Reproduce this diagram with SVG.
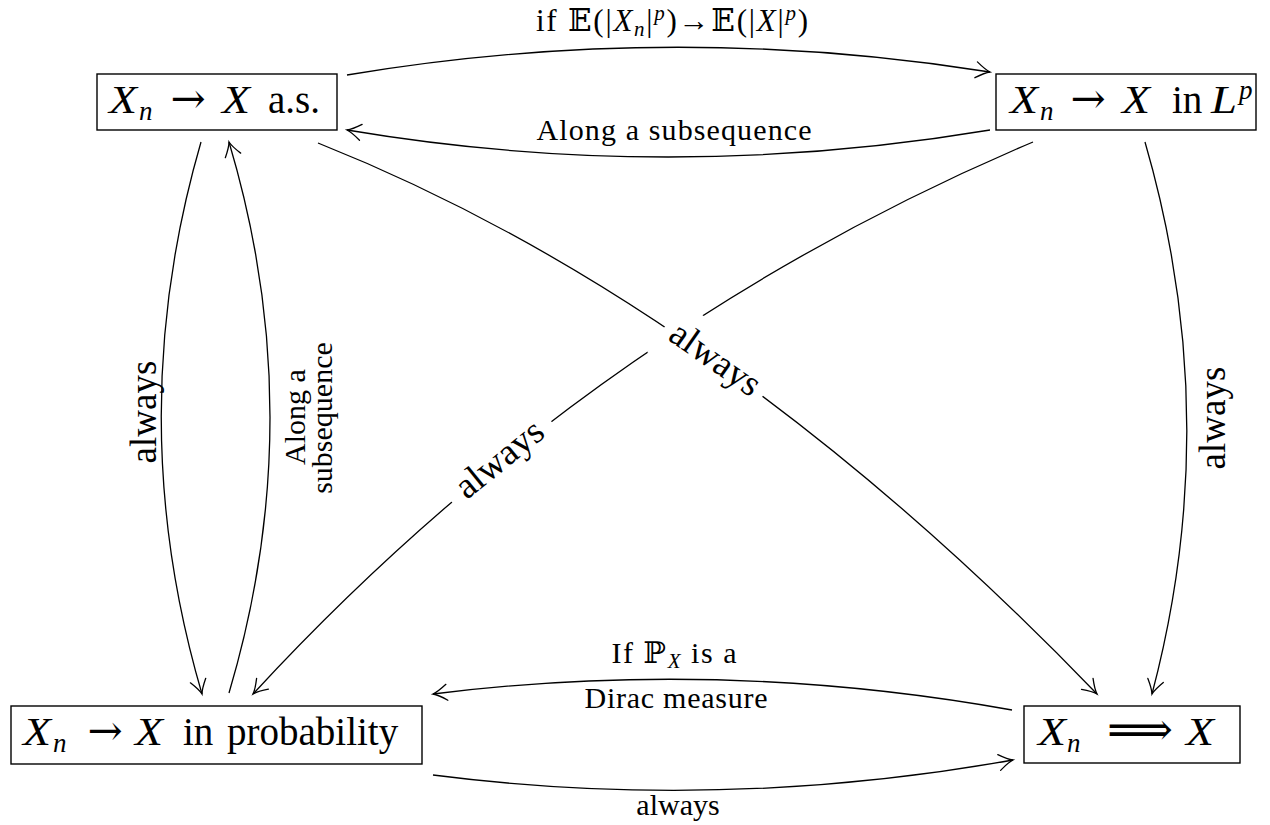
<svg xmlns="http://www.w3.org/2000/svg" width="1270" height="825" viewBox="0 0 1270 825">
<defs>
<style>
text{font-family:'Liberation Serif','DejaVu Serif','DejaVu Sans',serif;fill:#000}
.nt{font-size:39px}
.sb{font-size:27px}
.mi{font-style:italic}
.ar{font-family:'DejaVu Serif','DejaVu Sans',serif;font-size:42px}
.lb{font-size:30px}
.big{font-size:37px}
.box{fill:#fff;stroke:#000;stroke-width:1.4}
.edge{fill:none;stroke:#000;stroke-width:1.3;marker-end:url(#ah)}
.bg{fill:#fff;stroke:none}
</style>
<marker id="ah" markerUnits="userSpaceOnUse" markerWidth="20" markerHeight="20" viewBox="-16 -10 20 20" refX="0" refY="0" orient="auto" overflow="visible">
<path d="M-14,-8 Q-5,-1.5 0,0 Q-5,1.5 -14,8" fill="none" stroke="#000" stroke-width="1.3" stroke-linecap="round"/>
</marker>
</defs>
<rect width="1270" height="825" fill="#fff"/>

<g id="connectors">
<path class="edge" d="M347,75 Q669,21 990,72"/>
<path class="edge" d="M990,130 Q668,184 347,130"/>
<path class="edge" d="M201,142 Q121,418 202,694"/>
<path class="edge" d="M229,693 Q311,417 229,142"/>
<path class="edge" d="M318,143 Q720,303 1097,694"/>
<path class="edge" d="M1033,142 Q589,330 253,694"/>
<path class="edge" d="M1145,142 Q1225,418 1152,694"/>
<path class="edge" d="M1012,710 Q722,658 433,694"/>
<path class="edge" d="M433,775 Q722,812 1013,760"/>

<text style="font-size:31px" x="672" y="31" text-anchor="middle" textLength="272">if 𝔼(|<tspan class="mi">X</tspan><tspan class="mi" font-size="21" dy="5">n</tspan><tspan dy="-5">|</tspan><tspan class="mi" font-size="21" dy="-11">p</tspan><tspan dy="11">)→𝔼(|</tspan><tspan class="mi">X</tspan>|<tspan class="mi" font-size="21" dy="-11">p</tspan><tspan dy="11">)</tspan></text>
<text class="lb" x="674" y="140" text-anchor="middle" textLength="275">Along a subsequence</text>

<text class="big" transform="translate(156,412) rotate(-90)" text-anchor="middle">always</text>
<text style="font-size:30px" transform="translate(305,417) rotate(-90)" text-anchor="middle">Along a</text>
<text style="font-size:30px" transform="translate(332,418) rotate(-90)" text-anchor="middle">subsequence</text>
<text class="big" transform="translate(1225,418) rotate(-90)" text-anchor="middle">always</text>

<g transform="translate(714,361) rotate(35)">
<rect class="bg" x="-60" y="-31" width="120" height="62"/>
<text class="big" x="0" y="9" text-anchor="middle">always</text>
</g>
<g transform="translate(501,461) rotate(-39)">
<rect class="bg" x="-64" y="-24" width="128" height="48"/>
<text class="big" x="0" y="9" text-anchor="middle">always</text>
</g>

<text class="lb" x="674" y="663" text-anchor="middle" textLength="125">If ℙ<tspan class="mi" font-size="21" dy="5">X</tspan><tspan dy="-5"> is a</tspan></text>
<text class="lb" x="676" y="708" text-anchor="middle" textLength="183">Dirac measure</text>
<text class="lb" x="678" y="815" text-anchor="middle">always</text>
</g>

<g id="node-as">
<rect class="box" x="97" y="74" width="240" height="56"/>
<text class="nt mi" x="109" y="113" textLength="28" lengthAdjust="spacingAndGlyphs">X</text>
<text class="sb mi" x="139" y="120">n</text>
<text class="ar" x="188" y="113" text-anchor="middle">→</text>
<text class="nt mi" x="222" y="113" textLength="28" lengthAdjust="spacingAndGlyphs">X</text>
<text class="nt" x="268" y="113">a.s.</text>
</g>

<g id="node-lp">
<rect class="box" x="996" y="74" width="260" height="56"/>
<text class="nt mi" x="1010" y="113" textLength="28" lengthAdjust="spacingAndGlyphs">X</text>
<text class="sb mi" x="1040" y="120">n</text>
<text class="ar" x="1088" y="113" text-anchor="middle">→</text>
<text class="nt mi" x="1122" y="113" textLength="28" lengthAdjust="spacingAndGlyphs">X</text>
<text class="nt" x="1172" y="113">in</text>
<text class="nt mi" x="1211" y="113" textLength="26" lengthAdjust="spacingAndGlyphs">L</text>
<text class="sb mi" x="1239" y="99">p</text>
</g>

<g id="node-prob">
<rect class="box" x="11" y="706" width="411" height="58"/>
<text class="nt mi" x="23" y="745" textLength="28" lengthAdjust="spacingAndGlyphs">X</text>
<text class="sb mi" x="53" y="752">n</text>
<text class="ar" x="105" y="745" text-anchor="middle">→</text>
<text class="nt mi" x="135" y="745" textLength="28" lengthAdjust="spacingAndGlyphs">X</text>
<text class="nt" x="183" y="745">in</text>
<text class="nt" x="227" y="745">probability</text>
</g>

<g id="node-weak">
<rect class="box" x="1024" y="706" width="216" height="57"/>
<text class="nt mi" x="1038" y="745" textLength="28" lengthAdjust="spacingAndGlyphs">X</text>
<text class="sb mi" x="1067" y="752">n</text>
<text class="ar" x="1140" y="745" text-anchor="middle" style="font-size:46px">⟹</text>
<text class="nt mi" x="1186" y="745" textLength="28" lengthAdjust="spacingAndGlyphs">X</text>
</g>
</svg>
